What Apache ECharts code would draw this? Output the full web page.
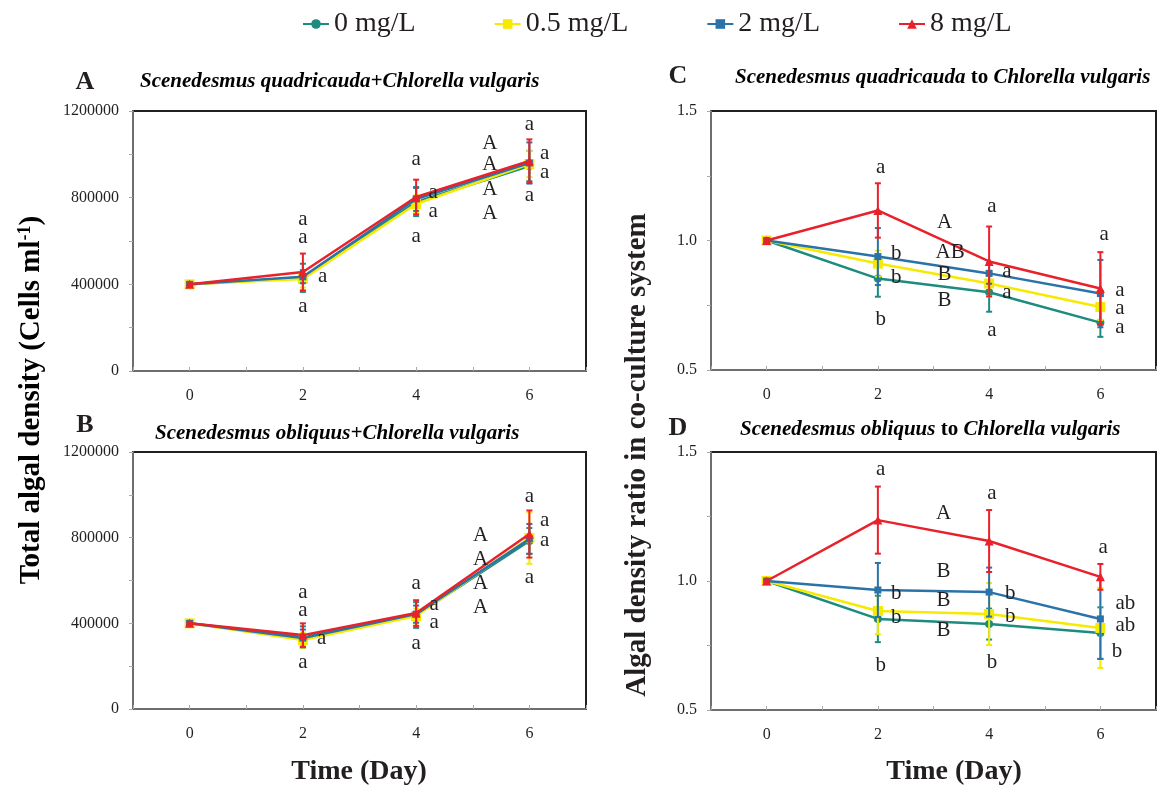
<!DOCTYPE html>
<html>
<head>
<meta charset="utf-8">
<script src="https://cdn.jsdelivr.net/npm/echarts@6/dist/echarts.min.js"></script>
<style>
  html, body { margin: 0; padding: 0; background: #fff; }
  #chart { width: 1159px; height: 786px; }
</style>
</head>
<body>
<div id="chart"></div>
<script>
// sampling days
const days = [0, 2, 4, 6];
const groups = ['0 mg/L', '0.5 mg/L', '2 mg/L', '8 mg/L'];
const colors = ['#1d8b7d', '#f5ea00', '#2a73a8', '#e8212b'];
const symbols = ['circle', 'rect', 'rect', 'triangle'];
const symbolSizes = [8, 10, 7, 9];

// panel A: S. quadricauda + C. vulgaris, total density (cells/ml)
const meanA = [
  [400000, 430000, 780000, 946000],
  [400000, 425000, 771000, 955000],
  [400000, 435000, 794000, 960000],
  [400000, 457000, 803000, 969000]
];
const sdA = [
  [5000, 65000, 65000, 70000],
  [5000, 40000, 40000, 60000],
  [5000, 30000, 55000, 95000],
  [5000, 85000, 80000, 100000]
];
// panel B: S. obliquus + C. vulgaris
const meanB = [
  [400000, 336000, 439000, 785000],
  [400000, 322000, 434000, 798000],
  [400000, 331000, 443000, 794000],
  [400000, 345000, 448000, 817000]
];
const sdB = [
  [5000, 50000, 60000, 60000],
  [5000, 35000, 35000, 120000],
  [5000, 40000, 40000, 70000],
  [5000, 55000, 60000, 110000]
];
// panel C: ratio S. quadricauda to C. vulgaris
const meanC = [
  [1.0, 0.853, 0.800, 0.683],
  [1.0, 0.911, 0.834, 0.743],
  [1.0, 0.938, 0.873, 0.795],
  [1.0, 1.116, 0.919, 0.815]
];
const sdC = [
  [0.005, 0.07, 0.075, 0.055],
  [0.005, 0.05, 0.05, 0.05],
  [0.005, 0.11, 0.04, 0.13],
  [0.005, 0.105, 0.135, 0.14]
];
// panel D: ratio S. obliquus to C. vulgaris
const meanD = [
  [1.0, 0.853, 0.833, 0.798],
  [1.0, 0.884, 0.872, 0.818],
  [1.0, 0.965, 0.957, 0.853],
  [1.0, 1.236, 1.155, 1.016]
];
const sdD = [
  [0.005, 0.09, 0.06, 0.10],
  [0.005, 0.09, 0.12, 0.155],
  [0.005, 0.105, 0.095, 0.155],
  [0.005, 0.13, 0.12, 0.05]
];

// significance letters [day, y, text]
const lettersA = [
  [2, 697000, 'a'], [2, 614000, 'a'], [2.35, 434000, 'a'], [2, 300000, 'a'],
  [4, 978000, 'a'], [4.3, 826000, 'a'], [4.3, 738000, 'a'], [4, 623000, 'a'],
  [5.3, 1052000, 'A'], [5.3, 951000, 'A'], [5.3, 840000, 'A'], [5.3, 725000, 'A'],
  [6, 1140000, 'a'], [6.27, 1006000, 'a'], [6.27, 918000, 'a'], [6, 808000, 'a']
];
const lettersB = [
  [2, 546000, 'a'], [2, 462000, 'a'], [2.33, 331000, 'a'], [2, 219000, 'a'],
  [4, 588000, 'a'], [4.32, 490000, 'a'], [4.32, 402000, 'a'], [4, 308000, 'a'],
  [5.14, 812000, 'A'], [5.14, 700000, 'A'], [5.14, 588000, 'A'], [5.14, 476000, 'A'],
  [6, 990000, 'a'], [6.27, 882000, 'a'], [6.27, 789000, 'a'], [6, 616000, 'a']
];
const lettersC = [
  [2.05, 1.282, 'a'], [2.33, 0.95, 'b'], [2.33, 0.857, 'b'], [2.05, 0.695, 'b'],
  [3.2, 1.069, 'A'], [3.3, 0.954, 'AB'], [3.2, 0.869, 'B'], [3.2, 0.768, 'B'],
  [4.05, 1.131, 'a'], [4.32, 0.88, 'a'], [4.32, 0.80, 'a'], [4.05, 0.653, 'a'],
  [6.07, 1.023, 'a'], [6.35, 0.807, 'a'], [6.35, 0.737, 'a'], [6.35, 0.664, 'a']
];
const lettersD = [
  [2.05, 1.434, 'a'], [2.33, 0.953, 'b'], [2.33, 0.86, 'b'], [2.05, 0.674, 'b'],
  [3.18, 1.26, 'A'], [3.18, 1.035, 'B'], [3.18, 0.926, 'B'], [3.18, 0.81, 'B'],
  [4.05, 1.341, 'a'], [4.38, 0.95, 'b'], [4.38, 0.864, 'b'], [4.05, 0.686, 'b'],
  [6.05, 1.128, 'a'], [6.45, 0.911, 'ab'], [6.45, 0.829, 'ab'], [6.3, 0.725, 'b']
];

const serif = '"Liberation Serif", "Times New Roman", serif';

function errorItem(params, api) {
  const x = api.value(0);
  const top = api.coord([x, api.value(2)]);
  const bot = api.coord([x, api.value(1)]);
  const w = 3;
  const style = { stroke: api.visual('color'), lineWidth: 2 };
  return {
    type: 'group',
    children: [
      { type: 'line', shape: { x1: top[0], y1: top[1], x2: bot[0], y2: bot[1] }, style },
      { type: 'line', shape: { x1: top[0] - w, y1: top[1], x2: top[0] + w, y2: top[1] }, style },
      { type: 'line', shape: { x1: bot[0] - w, y1: bot[1], x2: bot[0] + w, y2: bot[1] }, style }
    ]
  };
}

const lettersAll = { lA: lettersA, lB: lettersB, lC: lettersC, lD: lettersD };
function letterItem(params, api) {
  const p = api.coord([api.value(0), api.value(1)]);
  return {
    type: 'text',
    x: p[0],
    y: p[1],
    style: {
      text: lettersAll[params.seriesName][params.dataIndex][2],
      fill: '#231f20',
      font: '21px ' + serif,
      align: 'center',
      verticalAlign: 'middle'
    }
  };
}

const grids = [
  { left: 133, top: 111, width: 453, height: 260 },
  { left: 133, top: 452, width: 453, height: 257 },
  { left: 711, top: 111, width: 448, height: 259 },
  { left: 711, top: 452, width: 448, height: 258 }
];

const xAxes = grids.map((g, i) => ({
  type: 'value', gridIndex: i, min: -1, max: 7, interval: 1,
  axisLine: { onZero: false, lineStyle: { color: '#6d6e71', width: 2 } },
  axisTick: { inside: true, length: 4, lineStyle: { color: '#a7a9ac' } },
  axisLabel: {
    margin: 17, color: '#231f20', fontSize: 16, fontFamily: serif,
    formatter: v => (v >= 0 && v % 2 === 0 ? String(v) : '')
  },
  splitLine: { show: false }
}));

const yAxes = [0, 1, 2, 3].map(i => {
  const dens = i < 2;
  return {
    type: 'value', gridIndex: i,
    min: dens ? 0 : 0.5, max: dens ? 1200000 : 1.5, interval: dens ? 200000 : 0.25,
    axisLine: { show: true, onZero: false, lineStyle: { color: '#6d6e71', width: 2 } },
    axisTick: { show: true, length: 4, lineStyle: { color: '#a7a9ac' } },
    axisLabel: {
      margin: 14, color: '#231f20', fontSize: 16, fontFamily: serif,
      formatter: dens
        ? v => (v % 400000 === 0 ? String(v) : '')
        : v => (Math.abs(v * 2 - Math.round(v * 2)) < 1e-6 ? v.toFixed(1) : '')
    },
    splitLine: { show: false }
  };
});

const panels = [[meanA, sdA, lettersA, 'lA'], [meanB, sdB, lettersB, 'lB'], [meanC, sdC, lettersC, 'lC'], [meanD, sdD, lettersD, 'lD']];
const series = [];
panels.forEach(([mean, sd], p) => {
  groups.forEach((name, g) => {
    series.push({
      type: 'line', name, xAxisIndex: p, yAxisIndex: p, z: 2 + g,
      data: days.map((d, k) => [d, mean[g][k]]),
      symbol: symbols[g], symbolSize: symbolSizes[g],
      lineStyle: { color: colors[g], width: 2.5 },
      itemStyle: { color: colors[g] },
      animation: false
    });
  });
});
panels.forEach(([mean, sd], p) => {
  groups.forEach((name, g) => {
    series.push({
      type: 'custom', name, xAxisIndex: p, yAxisIndex: p, z: 2 + g,
      data: days.map((d, k) => [d, mean[g][k] - sd[g][k], mean[g][k] + sd[g][k]]),
      encode: { x: 0, y: [1, 2] },
      itemStyle: { color: colors[g] },
      renderItem: errorItem,
      animation: false
    });
  });
});
panels.forEach(([mean, sd, letters, key], p) => {
  series.push({
    type: 'custom', name: key, xAxisIndex: p, yAxisIndex: p, z: 10,
    data: letters.map(l => [l[0], l[1]]),
    encode: { x: 0, y: 1 },
    renderItem: letterItem,
    clip: false,
    animation: false
  });
});

const titleRich = {
  i: { fontStyle: 'italic', fontWeight: 'bold', fontSize: 21, fontFamily: serif, color: '#231f20' },
  n: { fontWeight: 'bold', fontSize: 21, fontFamily: serif, color: '#231f20' }
};
function panelTitle(x, y, text) {
  return {
    type: 'text', x, y,
    style: { text, rich: titleRich, verticalAlign: 'middle', align: 'left' }
  };
}
function panelLetter(x, y, text) {
  return {
    type: 'text', x, y,
    style: { text, font: 'bold 26px ' + serif, fill: '#231f20', align: 'center', verticalAlign: 'middle' }
  };
}
const axisTitleRich = {
  t: { fontWeight: 'bold', fontSize: 29, fontFamily: serif, color: '#231f20' },
  s: { fontWeight: 'bold', fontSize: 18, fontFamily: serif, color: '#231f20', padding: [0, 0, 14, 0] }
};

const chart = echarts.init(document.getElementById('chart'));
chart.setOption({
  animation: false,
  legend: {
    data: groups,
    left: 297, top: 5,
    itemGap: 78, itemWidth: 26, itemHeight: 12,
    textStyle: { fontSize: 28, fontFamily: serif, color: '#231f20' }
  },
  grid: grids.map(g => Object.assign({ show: true, borderColor: '#231f20', borderWidth: 2, backgroundColor: 'transparent' }, g)),
  xAxis: xAxes,
  yAxis: yAxes,
  series,
  graphic: [
    panelLetter(85, 82, 'A'),
    panelLetter(85, 425, 'B'),
    panelLetter(678, 76, 'C'),
    panelLetter(678, 428, 'D'),
    panelTitle(140, 82, '{i|Scenedesmus quadricauda+Chlorella vulgaris}'),
    panelTitle(155, 434, '{i|Scenedesmus obliquus+Chlorella vulgaris}'),
    panelTitle(735, 78, '{i|Scenedesmus quadricauda}{n| to }{i|Chlorella vulgaris}'),
    panelTitle(740, 430, '{i|Scenedesmus obliquus}{n| to }{i|Chlorella vulgaris}'),
    {
      type: 'text', x: 359, y: 772,
      style: { text: 'Time (Day)', font: 'bold 28px ' + serif, fill: '#231f20', align: 'center', verticalAlign: 'middle' }
    },
    {
      type: 'text', x: 954, y: 772,
      style: { text: 'Time (Day)', font: 'bold 28px ' + serif, fill: '#231f20', align: 'center', verticalAlign: 'middle' }
    },
    {
      type: 'text', x: 32, y: 400, rotation: Math.PI / 2,
      style: { text: '{t|Total algal density (Cells ml}{s|-1}{t|)}', rich: axisTitleRich, align: 'center', verticalAlign: 'middle' }
    },
    {
      type: 'text', x: 638, y: 455, rotation: Math.PI / 2,
      style: { text: 'Algal density ratio in co-culture system', font: 'bold 29px ' + serif, fill: '#231f20', align: 'center', verticalAlign: 'middle' }
    }
  ]
});
</script>
</body>
</html>
